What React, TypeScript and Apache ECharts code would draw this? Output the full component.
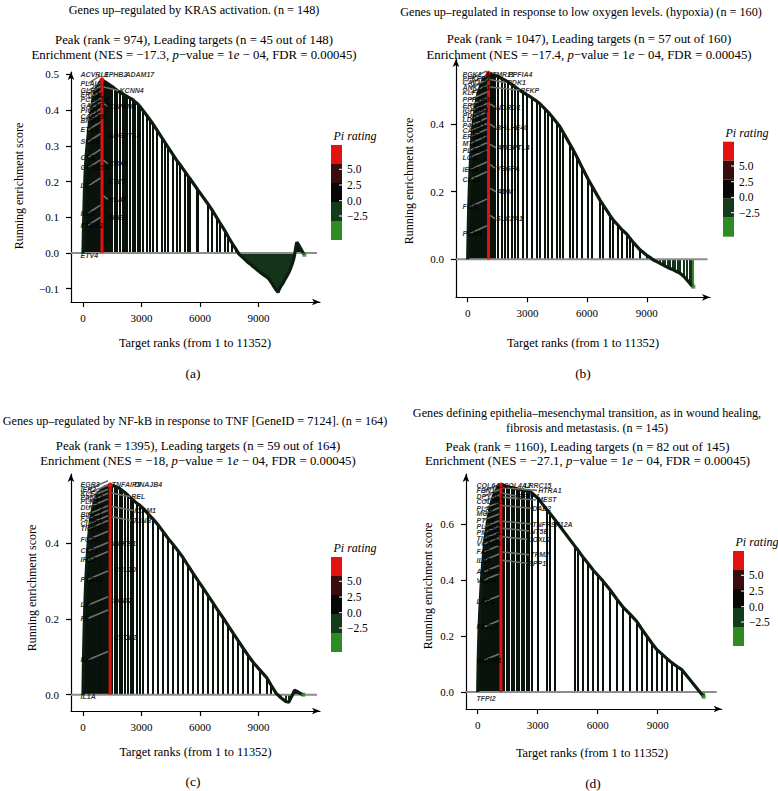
import React, { useEffect, useRef } from 'react';
import * as echarts from 'echarts';

const SERIF = "'Liberation Serif', 'Times New Roman', Times, serif";
const GENE_FONT = "'Liberation Sans Narrow', 'Liberation Sans', Arial, sans-serif";

// ---------- shared ----------
const xTicks = [0, 3000, 6000, 9000];
const xAxisTitle = 'Target ranks (from 1 to 11352)';
const yAxisTitle = 'Running enrichment score';
const piTitle = 'Pi rating';
const piTickLabels = ['5.0', '2.5', '0.0', '\u22122.5'];
const piColors = ['#e2130f', '#390c0e', '#070707', '#123b1b', '#2e8a22'];

// ---------- (a) KRAS ----------
const krasTitle = ['Genes up\u2013regulated by KRAS activation. (n = 148)'];
const krasStats = [974, 45, 148];
const krasNES = '\u221217.3';
const krasYTicks = [-0.1, 0, 0.1, 0.2, 0.3, 0.4, 0.5];
const krasHits: [number, number][] = [
  [3, 0.01], [10, 0.03], [18, 0.05], [26, 0.07], [34, 0.09], [42, 0.11], [52, 0.13], [62, 0.15], [72, 0.17], [84, 0.19],
  [98, 0.21], [115, 0.23], [135, 0.25], [160, 0.27], [190, 0.29], [225, 0.31], [262, 0.33], [300, 0.35], [345, 0.37],
  [395, 0.39], [450, 0.41], [510, 0.43], [575, 0.445], [640, 0.455], [710, 0.465], [790, 0.472], [870, 0.478], [974, 0.485],
  [1043, 0.482], [1120, 0.48], [1200, 0.477], [1290, 0.474], [1385, 0.47], [1500, 0.466], [1641, 0.46], [1760, 0.455],
  [1897, 0.45], [2030, 0.446], [2154, 0.442], [2280, 0.438], [2410, 0.434], [2540, 0.43], [2667, 0.424], [2800, 0.418],
  [2923, 0.41], [3100, 0.398], [3265, 0.386], [3450, 0.372], [3607, 0.36], [3820, 0.342], [4034, 0.324], [4200, 0.31],
  [4376, 0.295], [4620, 0.275], [4800, 0.26], [4970, 0.248], [5230, 0.228], [5380, 0.216], [5490, 0.208], [5850, 0.18],
  [5900, 0.176], [6400, 0.138], [6600, 0.122], [6850, 0.1], [7030, 0.084], [7280, 0.062], [7440, 0.046], [7640, 0.028],
  [7850, 0.01], [8000, -0.003], [8100, -0.008], [8200, -0.013], [8300, -0.018], [8400, -0.023], [8500, -0.028],
  [8600, -0.032], [8700, -0.037], [8800, -0.041], [8900, -0.046], [9000, -0.05], [9100, -0.055], [9200, -0.059],
  [9300, -0.063], [9400, -0.066], [9500, -0.071], [9600, -0.078], [9700, -0.086], [9800, -0.095], [9900, -0.103],
  [10000, -0.11], [10080, -0.1], [10160, -0.092], [10240, -0.086], [10320, -0.078], [10400, -0.07], [10480, -0.062],
  [10560, -0.054], [10640, -0.044], [10720, -0.032], [10790, -0.02], [10850, -0.006], [10900, 0.012], [10960, 0.03],
  [11050, 0.024], [11150, 0.014], [11250, 0.004], [11352, -0.005],
];
const krasLeftGenes = ['ACVRL1', 'PLAU', 'GLRX', 'ERO1L', 'PCSK1N', 'GALNT3', 'PIGR', 'CAB39L', 'BMP2', 'ETV1', 'SCG5', 'CFB', 'GPRC5A', 'LIF', 'IL33', 'PTGS2', 'ETV4'];
const krasLeftScores = [0.5, 0.475, 0.455, 0.445, 0.431, 0.412, 0.4, 0.382, 0.37, 0.345, 0.312, 0.268, 0.239, 0.188, 0.112, 0.078, -0.006];
const krasRightGenes = ['EPHB2', 'ADAM17', 'KCNN4', 'TSPAN1', 'ANGPTL4', 'CBX8', 'ETV5', 'PLAT', 'EREG'];
const krasRightPos: [number, number][] = [[1050, 0.5], [2150, 0.5], [1850, 0.455], [1300, 0.41], [1250, 0.33], [1300, 0.25], [1250, 0.2], [1300, 0.15], [1250, 0.1]];

// ---------- (b) hypoxia ----------
const hypoTitle = ['Genes up\u2013regulated in response to low oxygen levels. (hypoxia) (n = 160)'];
const hypoStats = [1047, 57, 160];
const hypoNES = '\u221217.4';
const hypoYTicks = [0, 0.2, 0.4];
const hypoHits: [number, number][] = [
  [3, 0.012], [10, 0.035], [18, 0.06], [26, 0.085], [35, 0.11], [45, 0.135], [56, 0.16], [68, 0.185], [82, 0.21],
  [98, 0.235], [115, 0.26], [135, 0.285], [158, 0.31], [185, 0.335], [215, 0.36], [250, 0.385], [290, 0.41], [335, 0.43],
  [385, 0.45], [440, 0.468], [500, 0.485], [570, 0.5], [650, 0.513], [740, 0.525], [840, 0.535], [940, 0.543], [1047, 0.55],
  [1150, 0.548], [1260, 0.546], [1372, 0.545], [1540, 0.54], [1708, 0.535], [1875, 0.53], [2043, 0.524], [2211, 0.517],
  [2378, 0.51], [2546, 0.503], [2797, 0.493], [2965, 0.487], [3216, 0.478], [3467, 0.468], [3633, 0.46], [3884, 0.445],
  [4051, 0.435], [4221, 0.423], [4472, 0.405], [4638, 0.392], [4804, 0.375], [5141, 0.34], [5307, 0.323], [5477, 0.304],
  [5729, 0.274], [6060, 0.236], [6231, 0.218], [6648, 0.175], [6814, 0.16], [7151, 0.13], [7317, 0.116], [7568, 0.1],
  [7737, 0.088], [7990, 0.075], [8156, 0.062], [8322, 0.05], [8660, 0.028], [8995, 0.012], [9160, 0.006], [9327, -0.002],
  [9500, -0.007], [9663, -0.012], [9800, -0.016], [9915, -0.02], [10050, -0.024], [10166, -0.027], [10300, -0.03],
  [10417, -0.034], [10550, -0.038], [10670, -0.041], [10850, -0.05], [11005, -0.06], [11150, -0.07], [11256, -0.078],
  [11340, -0.081],
];
const hypoLeftGenes = ['PGK1', 'PFKFB3', 'CAV1', 'ANKZF1', 'KLF6', 'PPP1R3C', 'ERO1L', 'IGFBP3', 'PDK3', 'LDHA', 'P4HA1', 'CAV2', 'ERRFI1', 'MT1E', 'PLAUR', 'LOX', 'IER3', 'CA12', 'FOS', 'PGM1'];
const hypoLeftScores = [0.548, 0.535, 0.522, 0.509, 0.493, 0.473, 0.456, 0.439, 0.424, 0.414, 0.396, 0.38, 0.363, 0.343, 0.323, 0.302, 0.266, 0.237, 0.156, 0.077];
const hypoRightGenes = ['MTMR11', 'PPFIA4', 'PDK1', 'PFKP', 'NDRG1', 'BHLHE40', 'ANGPTL4', 'VEGFA', 'ADM', 'SLC2A1'];
const hypoRightPos: [number, number][] = [[900, 0.548], [2000, 0.548], [1960, 0.522], [2630, 0.5], [1400, 0.45], [1400, 0.39], [1450, 0.33], [1400, 0.27], [1450, 0.2], [1400, 0.12]];

// ---------- (c) NF-kB ----------
const tnfTitle = ['Genes up\u2013regulated by NF-kB in response to TNF [GeneID = 7124]. (n = 164)'];
const tnfStats = [1395, 59, 164];
const tnfNES = '\u221218';
const tnfYTicks = [0, 0.2, 0.4];
const tnfHits: [number, number][] = [
  [3, 0.015], [10, 0.04], [18, 0.065], [26, 0.09], [35, 0.115], [45, 0.14], [56, 0.165], [68, 0.19], [82, 0.215],
  [98, 0.24], [115, 0.265], [135, 0.29], [158, 0.315], [185, 0.34], [215, 0.365], [250, 0.39], [290, 0.415], [335, 0.44],
  [385, 0.46], [440, 0.478], [500, 0.493], [570, 0.506], [650, 0.517], [740, 0.527], [840, 0.535], [950, 0.542],
  [1060, 0.547], [1170, 0.55], [1280, 0.552], [1395, 0.554],
  [1500, 0.553], [1620, 0.551], [1750, 0.548], [1880, 0.545], [2000, 0.54], [2150, 0.534], [2300, 0.527], [2450, 0.52],
  [2580, 0.514], [2750, 0.506], [2920, 0.5], [3094, 0.492], [3350, 0.477], [3607, 0.463], [3863, 0.448], [4120, 0.43],
  [4376, 0.412], [4632, 0.396], [4889, 0.379], [5145, 0.361], [5402, 0.34], [5658, 0.32], [5915, 0.3], [6171, 0.281],
  [6427, 0.261], [6684, 0.241], [6940, 0.221], [7197, 0.202], [7453, 0.182], [7709, 0.162], [7966, 0.142], [8222, 0.122],
  [8479, 0.103], [8735, 0.085], [9077, 0.065], [9419, 0.045], [9650, 0.025], [9900, 0.004], [10150, -0.008],
  [10400, -0.018], [10550, -0.02], [10700, -0.005], [10850, 0.012], [11000, 0.008], [11150, 0.003], [11300, 0.0],
];
const tnfLeftGenes = ['EGR3', 'IER2', 'KLF4', 'PANX1', 'PLK2', 'DUSP1', 'BIRC2', 'F2RL1', 'CLCF1', 'TNIP1', 'FUT4', 'CSF1', 'IRS2', 'PTGS2', 'LIF', 'F3', 'IL6', 'IL1A'];
const tnfLeftScores = [0.554, 0.543, 0.532, 0.521, 0.51, 0.495, 0.477, 0.465, 0.451, 0.438, 0.41, 0.38, 0.356, 0.305, 0.237, 0.202, 0.092, -0.006];
const tnfRightGenes = ['TNFAIP3', 'DNAJB4', 'REL', 'ICAM1', 'JUNB', 'NFKB1', 'CCL20', 'SOD2', 'CXCL2'];
const tnfRightPos: [number, number][] = [[1450, 0.554], [2600, 0.554], [2450, 0.523], [2600, 0.487], [2500, 0.46], [1500, 0.4], [1550, 0.33], [1500, 0.25], [1550, 0.15]];

// ---------- (d) EMT ----------
const emtTitle = ['Genes defining epithelia\u2013mesenchymal transition, as in wound healing,', 'fibrosis and metastasis. (n = 145)'];
const emtStats = [1160, 82, 145];
const emtNES = '\u221227.1';
const emtYTicks = [0, 0.2, 0.4, 0.6];
const emtHits: [number, number][] = [
  [2, 0.012], [6, 0.03], [11, 0.05], [16, 0.07], [21, 0.09], [27, 0.11], [33, 0.13], [40, 0.15], [47, 0.17], [55, 0.19],
  [63, 0.21], [72, 0.23], [82, 0.25], [93, 0.27], [105, 0.29], [118, 0.31], [132, 0.33], [147, 0.35], [163, 0.37],
  [180, 0.39], [198, 0.41], [218, 0.43], [240, 0.45], [263, 0.47], [288, 0.49], [315, 0.51], [345, 0.53], [378, 0.55],
  [413, 0.57], [452, 0.59], [495, 0.61], [545, 0.63], [600, 0.65], [660, 0.67], [730, 0.688], [810, 0.704], [900, 0.718],
  [1000, 0.729], [1080, 0.735], [1160, 0.739],
  [1250, 0.738], [1330, 0.737], [1450, 0.735], [1580, 0.732], [1700, 0.73], [1820, 0.728], [1950, 0.726], [2080, 0.724],
  [2200, 0.722], [2330, 0.72], [2450, 0.718], [2580, 0.716], [2700, 0.712], [3033, 0.69], [3450, 0.652], [3615, 0.638],
  [3865, 0.615], [4865, 0.52], [5030, 0.505], [5280, 0.48], [5530, 0.458], [5780, 0.435], [6030, 0.415], [6280, 0.395],
  [6615, 0.365], [6950, 0.332], [7280, 0.302], [7615, 0.278], [7950, 0.252], [8200, 0.225], [8450, 0.2], [8700, 0.175],
  [8950, 0.152], [9200, 0.136], [9450, 0.12], [9700, 0.105], [9950, 0.092], [10200, 0.08], [11300, -0.017],
];
const emtLeftGenes = ['COL6A3', 'FBN1', 'DPYSL3', 'COL5A1', 'PLAT', 'MGP', 'PTX3', 'PLOD2', 'PMEPA1', 'TIMP3', 'VCAM1', 'FAP', 'IL15', 'ACTA2', 'VCAN', 'LRP1', 'FSTL1', 'GREM1', 'TFPI2'];
const emtLeftScores = [0.739, 0.719, 0.7, 0.682, 0.656, 0.636, 0.614, 0.59, 0.57, 0.549, 0.529, 0.501, 0.471, 0.43, 0.4, 0.322, 0.233, 0.114, -0.022];
const emtRightGenes = ['COL4A2', 'LRRC15', 'HTRA1', 'SFRP1', 'MEST', 'DAB2', 'TNFRSF12A', 'NT5E', 'LOXL2', 'TPM2', 'SPP1'];
const emtRightPos: [number, number][] = [[1250, 0.739], [2300, 0.739], [3000, 0.72], [1950, 0.7], [2950, 0.686], [2700, 0.656], [2700, 0.6], [2600, 0.575], [2500, 0.545], [2600, 0.49], [2500, 0.46]];

// ---------- layout ----------
const panels = [
  {
    letter: '(a)', title: krasTitle, stats: krasStats, nes: krasNES, yTicks: krasYTicks, hits: krasHits,
    leftGenes: krasLeftGenes, leftScores: krasLeftScores, rightGenes: krasRightGenes, rightPos: krasRightPos,
    L: { left: 71, top: 72, width: 249, height: 230, xMin: -615, xMax: 12154, yMin: -0.1373, yMax: 0.507, zeroEnd: 12000,
      titleX: 194, titleY: [10], subX: 194, subY: [39.5, 54.5], yLabX: 19, yLabY: 186, xLabX: 195, xLabY: 343,
      letX: 193, letY: 373, barX: 331, barY: 145, leftRank: -150 },
  },
  {
    letter: '(b)', title: hypoTitle, stats: hypoStats, nes: hypoNES, yTicks: hypoYTicks, hits: hypoHits,
    leftGenes: hypoLeftGenes, leftScores: hypoLeftScores, rightGenes: hypoRightGenes, rightPos: hypoRightPos,
    L: { left: 456, top: 59, width: 254, height: 238.3, xMin: -588, xMax: 12176, yMin: -0.1124, yMax: 0.5926, zeroEnd: 12050,
      titleX: 581, titleY: [12.3], subX: 589, subY: [39, 54.7], yLabX: 409, yLabY: 181, xLabX: 583, xLabY: 343,
      letX: 583, letY: 373, barX: 723, barY: 141.7, leftRank: -286 },
  },
  {
    letter: '(c)', title: tnfTitle, stats: tnfStats, nes: tnfNES, yTicks: tnfYTicks, hits: tnfHits,
    leftGenes: tnfLeftGenes, leftScores: tnfLeftScores, rightGenes: tnfRightGenes, rightPos: tnfRightPos,
    L: { left: 71, top: 474, width: 249, height: 237, xMin: -615, xMax: 12154, yMin: -0.0431, yMax: 0.583, zeroEnd: 12000,
      titleX: 195, titleY: [421], subX: 198, subY: [445.7, 461], yLabX: 31.7, yLabY: 588, xLabX: 195.5, xLabY: 752,
      letX: 193, letY: 781, barX: 331, barY: 557, leftRank: -150 },
  },
  {
    letter: '(d)', title: emtTitle, stats: emtStats, nes: emtNES, yTicks: emtYTicks, hits: emtHits,
    leftGenes: emtLeftGenes, leftScores: emtLeftScores, rightGenes: emtRightGenes, rightPos: emtRightPos,
    L: { left: 466, top: 474, width: 255.7, height: 235, xMin: -585, xMax: 12200, yMin: -0.0607, yMax: 0.7786, zeroEnd: 11950,
      titleX: 587, titleY: [413.3, 427.7], subX: 587.5, subY: [446.7, 461], yLabX: 428.3, yLabY: 586, xLabX: 592, xLabY: 753.3,
      letX: 593, letY: 783.3, barX: 733, barY: 551, leftRank: -85 },
  },
];

const TITLE_SIZE = 12.2;
const SUB_SIZE = 12.8;
const AXIS_TITLE_SIZE = 12.4;

const fmtY = (v: number) => (v < -1e-9 ? '\u2212' : '') + Math.abs(v).toFixed(1);
const fmtX = (v: number) => String(Math.round(v));

function textEl(x: number, y: number, text: string, size: number, extra: any = {}) {
  return {
    type: 'text', x, y, silent: true, ...extra,
    style: {
      text, fill: '#000', font: `${extra.italic ? 'italic ' : ''}${size}px ${SERIF}`,
      align: extra.align || 'center', verticalAlign: 'middle',
      textAlign: extra.align || 'center', textVerticalAlign: 'middle',
    },
  };
}

function buildOption() {
  const grid: any[] = [];
  const xAxis: any[] = [];
  const yAxis: any[] = [];
  const series: any[] = [];
  const elements: any[] = [];

  panels.forEach((p, i) => {
    const L = p.L;
    grid.push({ left: L.left, top: L.top, width: L.width, height: L.height, containLabel: false });
    const axisLine = { show: true, onZero: false, symbol: ['none', 'arrow'], symbolSize: [5, 8], lineStyle: { color: '#000', width: 1.2 } };
    xAxis.push({
      type: 'value', gridIndex: i, min: L.xMin, max: L.xMax, axisLine,
      axisTick: { show: true, customValues: xTicks, length: 5, lineStyle: { color: '#000', width: 1.2 } },
      axisLabel: { show: true, customValues: xTicks, margin: 10, fontFamily: SERIF, fontSize: 11, color: '#000', formatter: fmtX },
      splitLine: { show: false },
    });
    yAxis.push({
      type: 'value', gridIndex: i, min: L.yMin, max: L.yMax, axisLine,
      axisTick: { show: true, customValues: p.yTicks, length: 5, lineStyle: { color: '#000', width: 1.2 } },
      axisLabel: { show: true, customValues: p.yTicks, margin: 12, fontFamily: SERIF, fontSize: 11, color: '#000', formatter: fmtY },
      splitLine: { show: false },
    });

    const hits = p.hits;
    const peak = p.stats[0];
    const peakIdx = hits.findIndex((h) => h[0] === peak);
    const peakScore = hits[peakIdx][1];
    const nHits = hits.length;

    // filled leading edge (dense hits before the peak)
    series.push({
      type: 'line', xAxisIndex: i, yAxisIndex: i, z: 1, silent: true, symbol: 'none',
      data: [[0, 0], ...hits.slice(0, peakIdx + 1), [peak, 0]],
      lineStyle: { width: 0 }, areaStyle: { color: '#070b07', opacity: 1, origin: 'auto' },
    });
    // vertical hit lines
    series.push({
      type: 'custom', xAxisIndex: i, yAxisIndex: i, z: 2, silent: true, clip: false,
      data: hits.map((h) => [h[0], h[1]]), encode: { x: 0, y: 1 },
      renderItem: (params: any, api: any) => {
        const r = api.value(0), s = api.value(1);
        const a = api.coord([r, 0]);
        const b = api.coord([r, s]);
        const x = Math.round(a[0]);
        const last = params.dataIndex === nHits - 1;
        const col = last ? '#2e8a22' : s < 0 ? '#14331a' : '#0a130b';
        return { type: 'line', shape: { x1: x, y1: a[1], x2: x, y2: b[1] }, style: { stroke: col, lineWidth: 2 } };
      },
    });
    // zero line
    series.push({
      type: 'line', xAxisIndex: i, yAxisIndex: i, z: 3, silent: true, symbol: 'none',
      data: [[L.xMin, 0], [L.zeroEnd, 0]], lineStyle: { color: '#8d8d8d', width: 2 },
    });
    // running score curve
    series.push({
      type: 'line', xAxisIndex: i, yAxisIndex: i, z: 4, silent: true, symbol: 'none',
      data: [[0, 0], ...hits], lineStyle: { color: '#0c1d0f', width: 3.2 },
    });
    // peak red line
    series.push({
      type: 'line', xAxisIndex: i, yAxisIndex: i, z: 5, silent: true,
      data: [[peak, 0], [peak, peakScore]], lineStyle: { color: '#e0140f', width: 3 },
      symbol: 'circle', showSymbol: true, symbolSize: (_v: any, prm: any) => (prm.dataIndex === 1 ? 5 : 0),
      itemStyle: { color: '#e0140f' },
    });
    // last hit green marker
    series.push({
      type: 'scatter', xAxisIndex: i, yAxisIndex: i, z: 5, silent: true, symbol: 'rect', symbolSize: 4,
      data: [hits[nHits - 1]], itemStyle: { color: '#2e8a22' },
    });
    // connector segments (label -> target)
    const segs: number[][] = [];
    p.leftScores.forEach((s, k) => {
      if (k > 0 && s > 0.05) segs.push([L.leftRank + 420, s, peak * 0.92, s + 0.022]);
    });
    p.rightPos.forEach((pos, k) => {
      if (k >= 2 && pos[0] - peak > 300) segs.push([peak + 80, pos[1] + 0.01, pos[0] - 30, pos[1]]);
    });
    series.push({
      type: 'custom', xAxisIndex: i, yAxisIndex: i, z: 6, silent: true, clip: false,
      data: segs, encode: { x: [0, 2], y: [1, 3] },
      renderItem: (_params: any, api: any) => {
        const a = api.coord([api.value(0), api.value(1)]);
        const b = api.coord([api.value(2), api.value(3)]);
        return { type: 'line', shape: { x1: a[0], y1: a[1], x2: b[0], y2: b[1] }, style: { stroke: '#707070', lineWidth: 1.6 } };
      },
    });
    // gene labels
    const labelData = [
      ...p.leftGenes.map((g, k) => ({ name: g, value: [L.leftRank, p.leftScores[k]] })),
      ...p.rightGenes.map((g, k) => ({ name: g, value: p.rightPos[k] })),
    ];
    series.push({
      type: 'scatter', xAxisIndex: i, yAxisIndex: i, z: 7, silent: true, symbolSize: 1,
      itemStyle: { color: 'rgba(0,0,0,0)' }, data: labelData,
      label: {
        show: true, position: 'right', distance: 0, formatter: '{b}', color: '#000',
        fontSize: 7, fontWeight: 'bold', fontStyle: 'italic', fontFamily: GENE_FONT,
      },
      labelLayout: { hideOverlap: false },
    });

    // ---- texts ----
    p.title.forEach((t, k) => elements.push(textEl(L.titleX, L.titleY[k], t, TITLE_SIZE)));
    elements.push(textEl(L.subX, L.subY[0], `Peak (rank = ${p.stats[0]}), Leading targets (n = ${p.stats[1]} out of ${p.stats[2]})`, SUB_SIZE));
    elements.push({
      type: 'text', x: L.subX, y: L.subY[1], silent: true,
      style: {
        text: `{n|Enrichment (NES = ${p.nes}, }{i|p}{n|\u2212value = 1}{i|e}{n| \u2212 04, FDR = 0.00045)}`,
        rich: {
          n: { fontSize: SUB_SIZE, fontFamily: SERIF, fill: '#000' },
          i: { fontSize: SUB_SIZE, fontFamily: SERIF, fontStyle: 'italic', fill: '#000' },
        },
        align: 'center', verticalAlign: 'middle', textAlign: 'center', textVerticalAlign: 'middle',
      },
    });
    elements.push({ ...textEl(L.yLabX, L.yLabY, yAxisTitle, 12), rotation: Math.PI / 2 });
    elements.push(textEl(L.xLabX, L.xLabY, xAxisTitle, AXIS_TITLE_SIZE));
    elements.push(textEl(L.letX, L.letY, p.letter, 13.5));

    // ---- Pi rating colour bar ----
    elements.push(textEl(L.barX + 24, L.barY - 9, piTitle, 12, { italic: true }));
    const segH = 19;
    piColors.forEach((c, k) => {
      elements.push({ type: 'rect', silent: true, shape: { x: L.barX, y: L.barY + k * segH, width: 11, height: segH }, style: { fill: c } });
    });
    const tickOffsets = [24.3, 40, 55.7, 71];
    piTickLabels.forEach((t, k) => {
      const ty = L.barY + tickOffsets[k];
      elements.push({ type: 'line', silent: true, shape: { x1: L.barX + 8, y1: ty, x2: L.barX + 11, y2: ty }, style: { stroke: '#fff', lineWidth: 1 } });
      elements.push(textEl(L.barX + 16, ty, t, 11.5, { align: 'left' }));
    });
  });

  return {
    animation: false,
    backgroundColor: '#fff',
    grid, xAxis, yAxis, series,
    graphic: { elements },
  };
}

export default function App() {
  const ref = useRef<HTMLDivElement>(null);
  useEffect(() => {
    if (!ref.current) return;
    const chart = echarts.init(ref.current, undefined, { renderer: 'svg' });
    chart.setOption(buildOption() as any);
    return () => chart.dispose();
  }, []);
  return <div ref={ref} style={{ position: 'absolute', left: 0, top: 0, width: 778, height: 791, background: '#fff' }} />;
}
